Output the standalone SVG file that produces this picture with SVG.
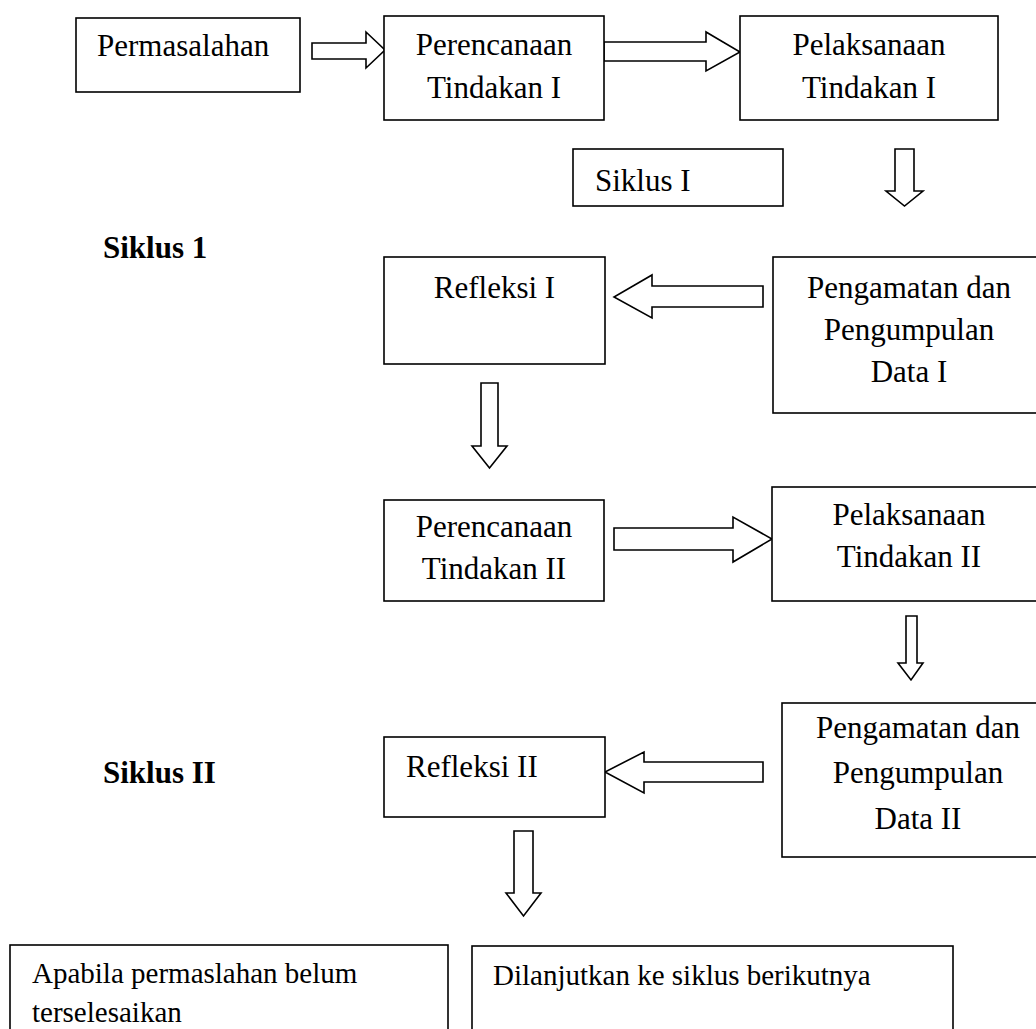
<svg xmlns="http://www.w3.org/2000/svg" width="1036" height="1029" viewBox="0 0 1036 1029">
<style>
.box{fill:#fff;stroke:#000;stroke-width:1.6}
.arr{fill:#fff;stroke:#000;stroke-width:1.6;stroke-linejoin:miter}
text{font-family:"Liberation Serif","Times New Roman",serif;font-size:31px;fill:#000}
.c{text-anchor:middle}
.b{font-weight:bold}
.s{font-size:29px}
</style>
<rect width="1036" height="1029" fill="#fff"/>
<g id="connectors">
<polygon class="arr" points="312,43 366,43 366,32 385,50 366,68 366,59 312,59"/>
<polygon class="arr" points="604,42 706,42 706,32 740,52 706,71 706,61 604,61"/>
<polygon class="arr" points="895,149 914,149 914,191 923,191 904.5,206 886,191 895,191"/>
<polygon class="arr" points="763,286 652,286 652,275 614,297 652,318 652,307 763,307"/>
<polygon class="arr" points="481,383 498,383 498,446 507,446 489.5,468 472,446 481,446"/>
<polygon class="arr" points="614,528 733,528 733,517 772,539 733,562 733,550 614,550"/>
<polygon class="arr" points="906,616 917,616 917,663 923,663 911,680 898,663 906,663"/>
<polygon class="arr" points="763,762 644,762 644,752 605,772 644,793 644,782 763,782"/>
<polygon class="arr" points="514,831 533,831 533,893 541,893 523.5,916 506,893 514,893"/>
</g>
<g id="permasalahan"><rect class="box" x="76" y="18" width="224" height="74"/><text x="97" y="56">Permasalahan</text></g>
<g id="perencanaan1"><rect class="box" x="384" y="16" width="220" height="104"/><text class="c" x="494" y="55">Perencanaan</text><text class="c" x="494" y="98">Tindakan I</text></g>
<g id="pelaksanaan1"><rect class="box" x="740" y="16" width="258" height="104"/><text class="c" x="869" y="55">Pelaksanaan</text><text class="c" x="869" y="98">Tindakan I</text></g>
<g id="siklusI-box"><rect class="box" x="573" y="149" width="210" height="57"/><text x="595" y="191">Siklus I</text></g>
<g id="label-siklus1"><text class="b" x="103" y="258">Siklus 1</text></g>
<g id="refleksi1"><rect class="box" x="384" y="257" width="221" height="107"/><text class="c" x="494.5" y="298">Refleksi I</text></g>
<g id="pengamatan1"><rect class="box" x="773" y="257" width="270" height="156"/><text class="c" x="909" y="298">Pengamatan dan</text><text class="c" x="909" y="340">Pengumpulan</text><text class="c" x="909" y="382">Data I</text></g>
<g id="perencanaan2"><rect class="box" x="384" y="500" width="220" height="101"/><text class="c" x="494" y="537">Perencanaan</text><text class="c" x="494" y="579">Tindakan II</text></g>
<g id="pelaksanaan2"><rect class="box" x="772" y="487" width="272" height="114"/><text class="c" x="909" y="525">Pelaksanaan</text><text class="c" x="909" y="567">Tindakan II</text></g>
<g id="label-siklus2"><text class="b" x="103" y="783">Siklus II</text></g>
<g id="refleksi2"><rect class="box" x="384" y="737" width="221" height="80"/><text x="406" y="777">Refleksi II</text></g>
<g id="pengamatan2"><rect class="box" x="782" y="703" width="262" height="154"/><text class="c" x="918" y="738">Pengamatan dan</text><text class="c" x="918" y="783">Pengumpulan</text><text class="c" x="918" y="829">Data II</text></g>
<g id="belum"><rect class="box" x="10" y="945" width="438" height="100"/><text class="s" x="32" y="983">Apabila permaslahan belum</text><text class="s" x="32" y="1022">terselesaikan</text></g>
<g id="lanjut"><rect class="box" x="472" y="946" width="481" height="100"/><text class="s" x="493" y="985">Dilanjutkan ke siklus berikutnya</text></g>
</svg>
